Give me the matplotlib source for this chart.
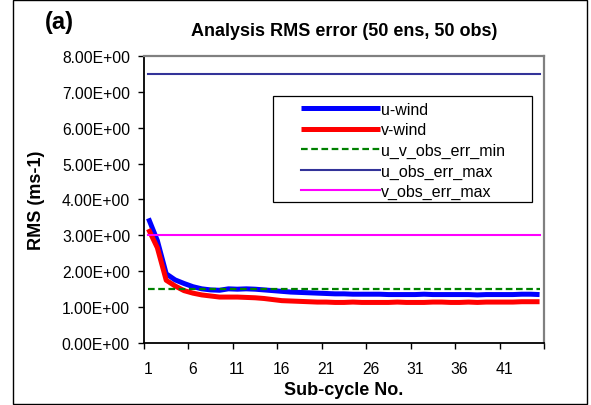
import numpy as np
import matplotlib
matplotlib.use("Agg")
import matplotlib.pyplot as plt
from matplotlib.patches import Rectangle
from matplotlib.ticker import FixedLocator, FuncFormatter

plt.rcParams['font.family'] = ['Liberation Sans', 'DejaVu Sans']

# 資料: 子循環 1..45 的分析均方根誤差
cycles = list(range(1, 46))
u_wind = [3.47, 2.85, 1.92, 1.75, 1.65, 1.56, 1.50, 1.47, 1.46, 1.50,
          1.49, 1.50, 1.49, 1.47, 1.45, 1.43, 1.41, 1.40, 1.39, 1.38,
          1.37, 1.36, 1.36, 1.35, 1.35, 1.35, 1.35, 1.34, 1.34, 1.34,
          1.34, 1.35, 1.34, 1.34, 1.34, 1.34, 1.34, 1.33, 1.34, 1.34,
          1.34, 1.34, 1.35, 1.35, 1.34]
v_wind = [3.17, 2.65, 1.74, 1.58, 1.45, 1.38, 1.33, 1.30, 1.27, 1.27,
          1.27, 1.26, 1.25, 1.23, 1.20, 1.17, 1.16, 1.15, 1.14, 1.13,
          1.13, 1.12, 1.12, 1.13, 1.12, 1.12, 1.12, 1.12, 1.13, 1.12,
          1.12, 1.12, 1.13, 1.13, 1.12, 1.12, 1.13, 1.12, 1.13, 1.13,
          1.13, 1.13, 1.14, 1.14, 1.14]
u_v_obs_err_min = 1.5
u_obs_err_max = 7.5
v_obs_err_max = 3.0
x_tick_labels = [1, 6, 11, 16, 21, 26, 31, 36, 41]
y_ticks = [0, 1, 2, 3, 4, 5, 6, 7, 8]

W, H = 591, 406
fig = plt.figure(figsize=(W / 100, H / 100), dpi=100)
ax = fig.add_axes([144 / W, 1 - 343.5 / H, 400 / W, 286.2 / H])

n = len(cycles)
ax.plot(cycles, u_wind, color="#0000ff", lw=3.6, label="u-wind",
        solid_capstyle="butt")
ax.plot(cycles, v_wind, color="#ff0000", lw=3.6, label="v-wind",
        solid_capstyle="butt")
ax.plot(cycles, np.full(n, u_v_obs_err_min), color="#008000", lw=1.6,
        dashes=(3.0, 1.6), label="u_v_obs_err_min")
ax.plot(cycles, np.full(n, u_obs_err_max), color="#333399", lw=1.5,
        label="u_obs_err_max")
ax.plot(cycles, np.full(n, v_obs_err_max), color="#ff00ff", lw=1.5,
        label="v_obs_err_max")

ax.set_xlim(0.5, 45.5)
ax.set_ylim(0, 8)

# 刻度: 主刻度在類別之間, 標籤在類別中心
ax.xaxis.set_major_locator(FixedLocator(np.arange(0.5, 46, 5)))
ax.xaxis.set_major_formatter(FuncFormatter(lambda v, p: ""))
ax.xaxis.set_minor_locator(FixedLocator(x_tick_labels))
ax.xaxis.set_minor_formatter(FuncFormatter(lambda v, p: "%d" % round(v)))
ax.tick_params(axis="x", which="major", direction="out", length=4,
               width=1, color="black")
ax.tick_params(axis="x", which="minor", length=0, pad=13, labelsize=11.3)
ax.set_yticks(y_ticks)
ax.yaxis.set_major_formatter(FuncFormatter(lambda v, p: "%.2E" % v))
ax.tick_params(axis="y", direction="out", length=4, width=1, pad=6,
               labelsize=11.3, color="black")

for s in ("left", "bottom"):
    ax.spines[s].set_color("black")
    ax.spines[s].set_linewidth(1.3)
for s in ("top", "right"):
    ax.spines[s].set_color("#808080")
    ax.spines[s].set_linewidth(1.6)

ax.set_xlabel("Sub-cycle No.", fontsize=13, fontweight="bold")
ax.xaxis.set_label_coords(0.5, (343.5 - 382) / 286.2)
ax.set_ylabel("RMS (ms-1)", fontsize=13, fontweight="bold")
ax.yaxis.set_label_coords((45 - 144) / 400, 0.5)
fig.text(344 / W, 1 - 31.5 / H, "Analysis RMS error (50 ens, 50 obs)",
         fontsize=13, fontweight="bold", ha="center", va="center")
fig.text(45 / W, 1 - 22 / H, "(a)", fontsize=17, fontweight="bold",
         ha="left", va="center")

# 圖例框
ax.add_patch(Rectangle(((273.3 - 144) / 400, (343.5 - 203.3) / 286.2),
                       (532.3 - 273.3) / 400, (203.3 - 97.3) / 286.2,
                       transform=ax.transAxes, fill=True, facecolor="white",
                       edgecolor="black", lw=0.9, zorder=5))
leg = ax.legend(loc="upper left",
                bbox_to_anchor=((300.7 - 144) / 400, (343.5 - 103) / 286.2),
                frameon=False, borderpad=0, borderaxespad=0,
                handlelength=4.95, handletextpad=0.1, labelspacing=0.34,
                fontsize=11.5)
leg.set_zorder(6)

# 外框
fig.patches.append(Rectangle((12.7 / W, 1 - 404.5 / H), 574 / W, 404 / H,
                             transform=fig.transFigure, fill=False,
                             edgecolor="black", lw=1.0))

fig.savefig("out.png", dpi=100)
